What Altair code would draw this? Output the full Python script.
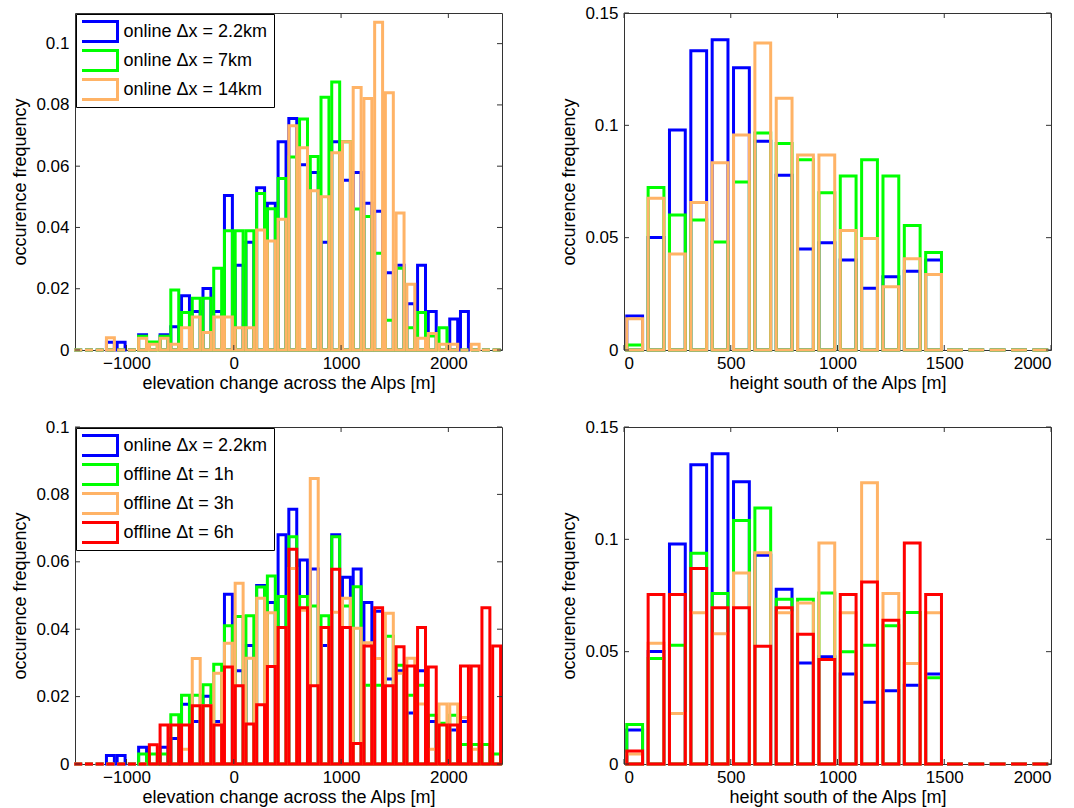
import altair as alt
import pandas as pd

# ---------------- data ----------------
names_top = ["online Δx = 2.2km", "online Δx = 7km", "online Δx = 14km"]
names_bot = ["online Δx = 2.2km", "offline Δt = 1h", "offline Δt = 3h", "offline Δt = 6h"]
colors_top = ["#0000ff", "#00ff00", "#ffb366"]
colors_bot = ["#0000ff", "#00ff00", "#ffb366", "#ff0000"]

# bin centres (m)
elev_bins = [-1450, -1350, -1250, -1150, -1050, -950, -850, -750, -650, -550,
             -450, -350, -250, -150, -50, 50, 150, 250, 350, 450,
             550, 650, 750, 850, 950, 1050, 1150, 1250, 1350, 1450,
             1550, 1650, 1750, 1850, 1950, 2050, 2150, 2250, 2350, 2450]
height_bins = [50, 150, 250, 350, 450, 550, 650, 750, 850, 950,
               1050, 1150, 1250, 1350, 1450, 1550, 1650, 1750, 1850, 1950]

# elevation change, online 2.2 km (both left panels)
elev_on22 = [0, 0, 0, 0.0025, 0.0025, 0, 0.0050, 0, 0.0050, 0.0076,
             0.0177, 0.0126, 0.0201, 0.0126, 0.0504, 0.0277, 0.0352, 0.0530, 0.0479, 0.0680,
             0.0756, 0.0605, 0.0579, 0.0352, 0.0680, 0.0554, 0.0579, 0.0479, 0.0453, 0.0252,
             0.0277, 0.0151, 0.0277, 0.0126, 0, 0.0101, 0.0126, 0, 0, 0]
elev_on7 = [0, 0, 0, 0, 0, 0, 0.0045, 0.0026, 0.0045, 0.0196,
            0.0122, 0.0169, 0.0169, 0.0267, 0.0389, 0.0389, 0.0389, 0.0511, 0.0461, 0.0560,
            0.0630, 0.0754, 0.0632, 0.0825, 0.0875, 0.0680, 0.0460, 0.0436, 0.0316, 0.0097,
            0.0267, 0.0073, 0.0122, 0.0046, 0.0073, 0, 0, 0, 0, 0]
elev_on14 = [0, 0, 0, 0.0040, 0, 0, 0.0038, 0.0019, 0.0038, 0.0019,
             0.0073, 0.0108, 0.0057, 0.0108, 0.0108, 0.0073, 0.0073, 0.0392, 0.0356, 0.0427,
             0.0732, 0.0660, 0.0520, 0.0500, 0.0644, 0.0680, 0.0857, 0.0821, 0.1070, 0.0840,
             0.0447, 0.0215, 0.0038, 0.0054, 0.0019, 0.0019, 0, 0.0019, 0, 0]
elev_off1 = [0, 0, 0, 0, 0, 0, 0.0030, 0.0030, 0.0030, 0.0146,
             0.0204, 0.0204, 0.0235, 0.0296, 0.0410, 0.0438, 0.0440, 0.0525, 0.0558, 0.0497,
             0.0674, 0.0497, 0.0469, 0.0440, 0.0674, 0.0469, 0.0526, 0.0234, 0.0234, 0.0379,
             0.0293, 0.0204, 0.0234, 0.0145, 0.0121, 0.0145, 0.0058, 0.0058, 0.0058, 0.0030]
elev_off3 = [0, 0, 0, 0, 0, 0, 0, 0, 0, 0,
             0.0044, 0.0313, 0.0173, 0.0269, 0.0358, 0.0536, 0.0314, 0.0492, 0.0449, 0.0405,
             0.0580, 0.0456, 0.0847, 0.0405, 0.0450, 0.0492, 0.0403, 0.0360, 0.0313, 0.0447,
             0.0269, 0.0314, 0.0178, 0.0044, 0.0178, 0.0178, 0.0138, 0.0044, 0, 0]
elev_off6 = [0, 0, 0, 0, 0, 0, 0, 0.0057, 0.0116, 0.0116,
             0.0116, 0.0173, 0.0173, 0.0116, 0.0288, 0.0232, 0.0119, 0.0176, 0.0289, 0.0405,
             0.0637, 0.0464, 0.0232, 0.0405, 0.0578, 0.0405, 0.0061, 0.0350, 0.0464, 0.0232,
             0.0348, 0.0291, 0.0405, 0.0288, 0.0116, 0.0116, 0.0291, 0.0291, 0.0464, 0.0350]

# height south of the Alps
hgt_on22 = [0.0151, 0.0501, 0.0979, 0.1332, 0.1381, 0.1256, 0.0929, 0.0778, 0.0450, 0.0477,
            0.0401, 0.0275, 0.0326, 0.0350, 0.0401, 0, 0, 0, 0, 0]
hgt_on7 = [0.0022, 0.0723, 0.0601, 0.0579, 0.0481, 0.0748, 0.0966, 0.0919, 0.0847, 0.0700,
           0.0775, 0.0847, 0.0775, 0.0554, 0.0434, 0, 0, 0, 0, 0]
hgt_on14 = [0.0139, 0.0676, 0.0427, 0.0656, 0.0833, 0.0957, 0.1367, 0.1120, 0.0868, 0.0868,
            0.0532, 0.0496, 0.0281, 0.0406, 0.0336, 0, 0, 0, 0, 0]
hgt_off1 = [0.0176, 0.0470, 0.0529, 0.0938, 0.0759, 0.1084, 0.1140, 0.0733, 0.0733, 0.0761,
            0.0500, 0.0529, 0.0615, 0.0674, 0.0384, 0, 0, 0, 0, 0]
hgt_off3 = [0.0044, 0.0538, 0.0225, 0.0673, 0.0580, 0.0850, 0.0940, 0.0673, 0.0717, 0.0984,
            0.0673, 0.1252, 0.0759, 0.0447, 0.0673, 0, 0, 0, 0, 0]
hgt_off6 = [0.0058, 0.0754, 0.0754, 0.0870, 0.0696, 0.0696, 0.0524, 0.0695, 0.0578, 0.0465,
            0.0754, 0.0810, 0.0640, 0.0984, 0.0754, 0, 0, 0, 0, 0]

elev_xticks = [-1000, 0, 1000, 2000]
hgt_xticks = [0, 500, 1000, 1500, 2000]
freq_ticks_a = [0, 0.02, 0.04, 0.06, 0.08, 0.1]
freq_ticks_b = [0, 0.05, 0.1, 0.15]

# ---------------- style ----------------
W, H = 427, 337
HALF = 37          # half bar width in data units (bin = 100 m)
FRAME = "#333333"
FONT = "Liberation Sans"
YTITLE = "occurence frequency"


def panel(bins, series, names, colors, xdom, ydom, xticks, yticks, xtitle, legend):
    rows = []
    for k, (nm, vals) in enumerate(zip(names, series)):
        for b, v in zip(bins, vals):
            rows.append({"c": b, "v": v, "s": nm, "o": k})
    df = pd.DataFrame(rows)
    xs = alt.Scale(domain=xdom, nice=False, zero=False)
    ys = alt.Scale(domain=ydom, nice=False, zero=False)
    xax = alt.Axis(values=xticks, format="d")
    yax = alt.Axis(values=yticks, format=".2~f")
    leg = alt.Legend(orient="top-left", offset=1, title=None) if legend else None

    bars = alt.Chart(df).transform_calculate(
        x0=f"datum.c - {HALF}", x1=f"datum.c + {HALF}", y0="0"
    ).mark_rect(filled=False, strokeWidth=3).encode(
        x=alt.X("x0:Q", scale=xs, title=xtitle, axis=xax),
        x2="x1:Q",
        y=alt.Y("v:Q", scale=ys, title=YTITLE, axis=yax),
        y2="y0:Q",
        color=alt.Color("s:N", scale=alt.Scale(domain=names, range=colors), legend=leg),
        order=alt.Order("o:Q"),
    )

    xt = pd.DataFrame({"t": xticks})
    yt = pd.DataFrame({"t": yticks})
    tx = alt.X("t:Q", scale=xs, title=xtitle, axis=xax)
    ty = alt.Y("t:Q", scale=ys, title=YTITLE, axis=yax)
    tick_b = alt.Chart(xt).mark_rule(color=FRAME, strokeWidth=1).encode(
        x=tx, y=alt.value(H), y2=alt.value(H - 5))
    tick_t = alt.Chart(xt).mark_rule(color=FRAME, strokeWidth=1).encode(
        x=tx, y=alt.value(0), y2=alt.value(5))
    tick_l = alt.Chart(yt).mark_rule(color=FRAME, strokeWidth=1).encode(
        y=ty, x=alt.value(0), x2=alt.value(5))
    tick_r = alt.Chart(yt).mark_rule(color=FRAME, strokeWidth=1).encode(
        y=ty, x=alt.value(W - 5), x2=alt.value(W))

    return alt.layer(bars, tick_b, tick_t, tick_l, tick_r).properties(width=W, height=H)


tl = panel(elev_bins, [elev_on22, elev_on7, elev_on14], names_top, colors_top,
           [-1480, 2500], [0, 0.11], elev_xticks, freq_ticks_a,
           "elevation change across the Alps [m]", True)
tr = panel(height_bins, [hgt_on22, hgt_on7, hgt_on14], names_top, colors_top,
           [0, 2000], [0, 0.15], hgt_xticks, freq_ticks_b,
           "height south of the Alps [m]", False)
bl = panel(elev_bins, [elev_on22, elev_off1, elev_off3, elev_off6], names_bot, colors_bot,
           [-1480, 2500], [0, 0.1], elev_xticks, freq_ticks_a,
           "elevation change across the Alps [m]", True)
br = panel(height_bins, [hgt_on22, hgt_off1, hgt_off3, hgt_off6], names_bot, colors_bot,
           [0, 2000], [0, 0.15], hgt_xticks, freq_ticks_b,
           "height south of the Alps [m]", False)

chart = alt.concat(
    tl, tr, bl, br, columns=2, spacing={"row": 77, "column": 122}, bounds="flush"
).resolve_scale(
    x="independent", y="independent", color="independent"
).resolve_legend(color="independent").properties(
    padding={"left": 11, "top": 3, "right": 0, "bottom": 0},
    background="white",
).configure(font=FONT).configure_view(
    stroke=FRAME, strokeWidth=1
).configure_axis(
    ticks=False, tickSize=0, domain=False, grid=False,
    labelFont=FONT, labelFontSize=17, labelColor="black",
    titleFont=FONT, titleFontSize=18, titleFontWeight="normal", titleColor="black",
).configure_axisX(labelPadding=5, titlePadding=3).configure_axisY(
    labelPadding=6, titlePadding=6
).configure_legend(
    symbolType="M-1.85,-1H1.85V1H-1.85Z", symbolSize=400, symbolStrokeWidth=3,
    labelFont=FONT, labelFontSize=18, labelColor="black", labelLimit=400,
    padding=6, rowPadding=6, clipHeight=23, symbolOffset=5.5, labelOffset=13,
    strokeColor="black", fillColor="white", cornerRadius=0,
)

chart.save("out.html", embed_options={"renderer": "svg", "actions": False})
